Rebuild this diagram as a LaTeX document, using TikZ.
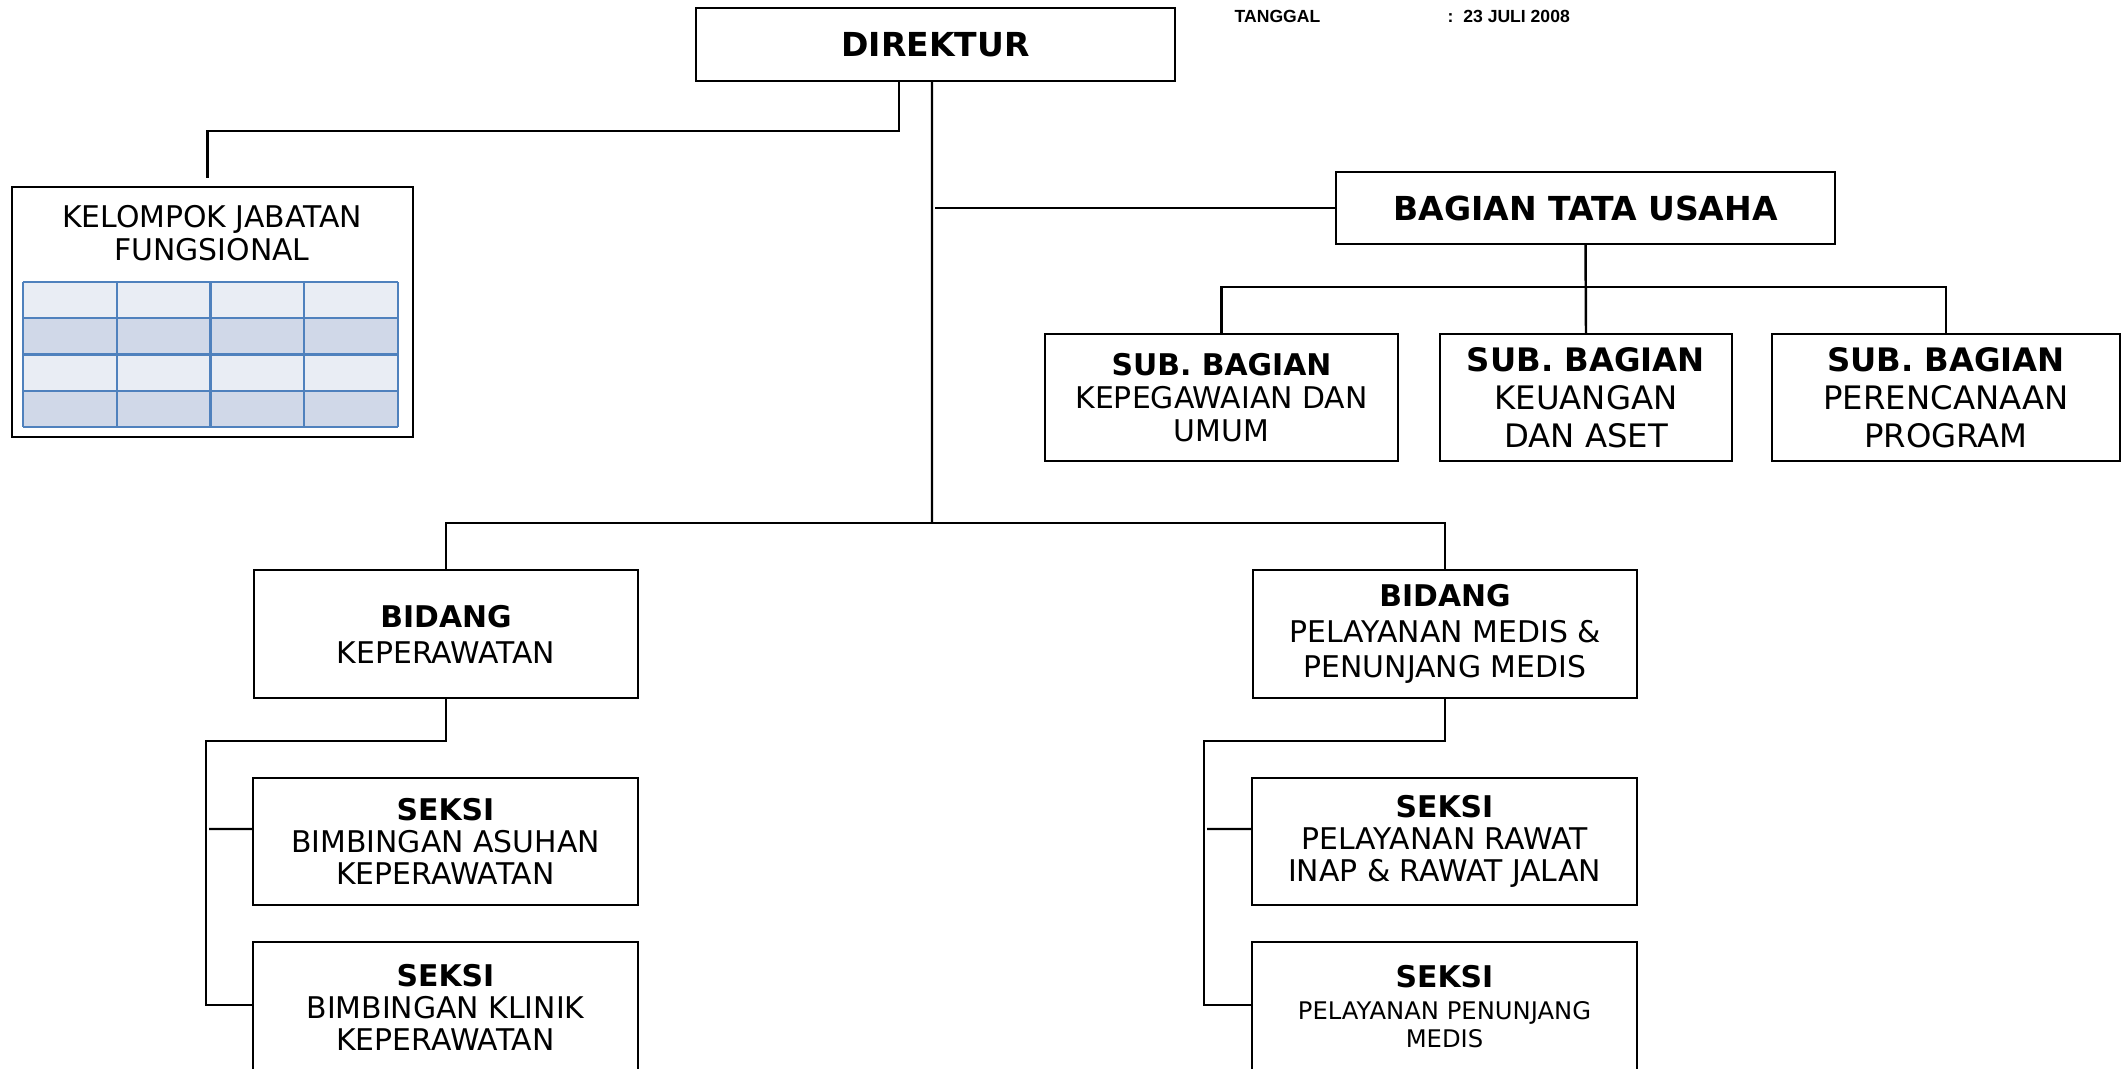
\documentclass[tikz,border=0pt]{standalone}
\usepackage{fontspec}
\setmainfont{DejaVu Sans}
\newfontfamily\datefont{Liberation Sans}
\usepackage{tikz}
\usepackage{xcolor}
\definecolor{tblline}{HTML}{4F81BD}
\definecolor{tbllight}{HTML}{E9EDF4}
\definecolor{tbldark}{HTML}{D0D8E8}
\newcommand{\fsz}[2]{\fontsize{#1}{#2}\selectfont}

\begin{document}
\begin{tikzpicture}[unit/.style={draw=black, line width=0.8pt, align=center, inner sep=0pt, outer sep=0pt},
    link/.style={line width=0.7pt},
    stamp/.style={anchor=west, inner sep=0pt, font=\datefont\bfseries\fsz{5}{6}}]
    % Page area
    \useasboundingbox (0,0) rectangle (21.28,-10.68);
    \clip (0,0) rectangle (21.28,-10.68);

    % Top level
    \node[unit, minimum width=4.79cm, minimum height=0.73cm, font=\bfseries\fsz{9.4}{11}] (dir) at (9.355,-0.445) {DIREKTUR};
    \node[stamp] (tgl) at (12.34,-0.16) {TANGGAL};
    \node[stamp] (tgldate) at (14.47,-0.16) {:\ \ 23 JULI 2008};

    % Kelompok jabatan fungsional
    \node[unit, minimum width=4.01cm, minimum height=2.5cm] (kjf) at (2.125,-3.12) {};
    \node[align=center, inner sep=0pt, font=\fsz{8.5}{9.4}] (kjftitle) at (2.12,-2.335) {KELOMPOK JABATAN\\FUNGSIONAL};
    \foreach \r/\c in {0/tbllight, 1/tbldark, 2/tbllight, 3/tbldark}
        \fill[\c] (0.23,-2.82-0.3625*\r) rectangle (3.98,-3.1825-0.3625*\r);
    \foreach \r in {0,...,4}
        \draw[tblline, line width=0.7pt] (0.23,-2.82-0.3625*\r) -- (3.98,-2.82-0.3625*\r);
    \foreach \c in {0,...,4}
        \draw[tblline, line width=0.7pt] (0.23+0.9375*\c,-2.82) -- (0.23+0.9375*\c,-4.27);

    % Bagian tata usaha
    \node[unit, minimum width=4.99cm, minimum height=0.72cm, font=\bfseries\fsz{9.4}{11}] (bag) at (15.855,-2.08) {BAGIAN TATA USAHA};
    \node[unit, minimum width=3.53cm, minimum height=1.27cm, font=\fsz{8.5}{9.4}] (sub1) at (12.215,-3.975) {\textbf{SUB. BAGIAN}\\KEPEGAWAIAN DAN\\UMUM};
    \node[unit, minimum width=2.92cm, minimum height=1.27cm, font=\fsz{9.2}{10.8}] (sub2) at (15.86,-3.975) {\textbf{SUB. BAGIAN}\\KEUANGAN\\DAN ASET};
    \node[unit, minimum width=3.48cm, minimum height=1.27cm, font=\fsz{9.2}{10.8}] (sub3) at (19.46,-3.975) {\textbf{SUB. BAGIAN}\\PERENCANAAN\\PROGRAM};

    % Bidang
    \node[unit, minimum width=3.84cm, minimum height=1.28cm, font=\fsz{8.5}{10.2}] (bid1) at (4.46,-6.34) {\textbf{BIDANG}\\KEPERAWATAN};
    \node[unit, minimum width=3.84cm, minimum height=1.28cm, font=\fsz{8.5}{10.2}] (bid2) at (14.45,-6.34) {\textbf{BIDANG}\\PELAYANAN MEDIS \&\\PENUNJANG MEDIS};

    % Seksi
    \node[unit, minimum width=3.85cm, minimum height=1.27cm, font=\fsz{8.5}{9.1}] (sek1a) at (4.455,-8.415) {\textbf{SEKSI}\\BIMBINGAN ASUHAN\\KEPERAWATAN};
    \node[unit, minimum width=3.85cm, minimum height=1.3cm, font=\fsz{8.5}{9.1}] (sek1b) at (4.455,-10.07) {\textbf{SEKSI}\\BIMBINGAN KLINIK\\KEPERAWATAN};
    \node[unit, minimum width=3.85cm, minimum height=1.27cm, font=\fsz{8.5}{9.1}] (sek2a) at (14.445,-8.415) {\textbf{SEKSI}\\PELAYANAN RAWAT\\INAP \& RAWAT JALAN};
    \node[unit, minimum width=3.85cm, minimum height=1.3cm, font=\fsz{8.5}{9.1}] (sek2b) at (14.445,-10.07) {\textbf{SEKSI}\\{\fsz{6.9}{8}PELAYANAN PENUNJANG}\\[-1.1pt]{\fsz{6.9}{8}MEDIS}};

    % Lines
    \coordinate (trunk) at (9.32,-5.23);
    \coordinate (tap) at (9.35,-2.08);
    \coordinate (kepa) at (2.09,-8.29);
    \coordinate (pela) at (12.07,-8.29);
    \draw[link] ([xshift=-0.365cm]dir.south) -- ++(0,-0.5) -| ([xshift=-0.05cm, yshift=0.09cm]kjf.north);
    \draw[link] ([xshift=-0.035cm]dir.south) -- (trunk);
    \draw[link] (tap) -- (bag.west);
    \draw[link] (bag.south) -- (sub2.north);
    \draw[link] (sub1.north) |- ([yshift=-0.43cm]bag.south) -| (sub3.north);
    \draw[link] (bid1.north) |- (trunk) -| (bid2.north);
    \draw[link] (bid1.south) |- (2.06,-7.41) |- ([yshift=0.02cm]sek1b.west);
    \draw[link] (kepa) -- ([yshift=0.125cm]sek1a.west);
    \draw[link] (bid2.south) |- (12.04,-7.41) |- ([yshift=0.02cm]sek2b.west);
    \draw[link] (pela) -- ([yshift=0.125cm]sek2a.west);

\end{tikzpicture}
\end{document}
